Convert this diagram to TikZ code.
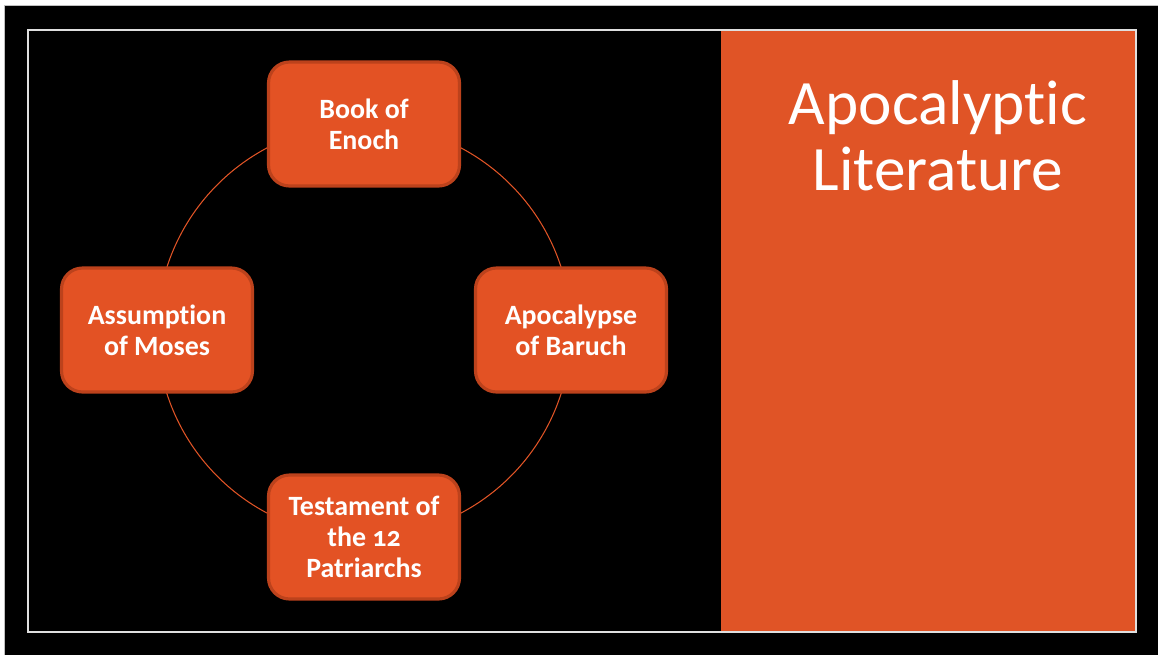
\documentclass[tikz,border=0pt]{standalone}
\usepackage{fontspec}
\setmainfont{Carlito}[Numbers=OldStyle,Ligatures=NoCommon]
\usetikzlibrary{backgrounds}
\definecolor{rust}{RGB}{224,84,38}
\definecolor{rustbox}{RGB}{227,82,36}
\definecolor{rustdark}{RGB}{188,66,28}

\begin{document}
\begin{tikzpicture}[x=0.02cm,y=0.02cm,
    topic/.style={rectangle,rounded corners=0.42cm,fill=rustbox,draw=rustdark,line width=1.8pt,
      minimum width=3.82cm,minimum height=2.48cm,text=white,align=center,
      font=\bfseries\fontsize{15.9}{17.6}\selectfont},
    ring/.style={rust,line width=0.6pt}]
  \useasboundingbox (0,0) rectangle (1158,654);
  \begin{scope}[on background layer]
    \fill[white] (0,0) rectangle (1158,654);
    \draw[gray!50,fill=black] (4,-4) rectangle (1162,649);
    \fill[rust] (721,22) rectangle (1136,624);
    \draw[gray!25,line width=0.8pt] (28,22) rectangle (1136,624);
  \end{scope}
  \node[topic] (enoch) at (364,530) {Book of\\Enoch};
  \node[topic] (baruch) at (571,324) {Apocalypse\\of Baruch};
  \node[topic] (patriarchs) at (364,117) {Testament of\\the 12\\Patriarchs};
  \node[topic] (moses) at (157,324) {Assumption\\of Moses};
  \node[text=white,align=center,font=\fontsize{36}{37.5}\selectfont] (title) at (938,518) {Apocalyptic\\Literature};
  \begin{scope}[on background layer]
    \draw[ring] (enoch.center) to[bend left=45] (baruch.center);
    \draw[ring] (baruch.center) to[bend left=45] (patriarchs.center);
    \draw[ring] (patriarchs.center) to[bend left=45] (moses.center);
    \draw[ring] (moses.center) to[bend left=45] (enoch.center);
  \end{scope}
\end{tikzpicture}
\end{document}
